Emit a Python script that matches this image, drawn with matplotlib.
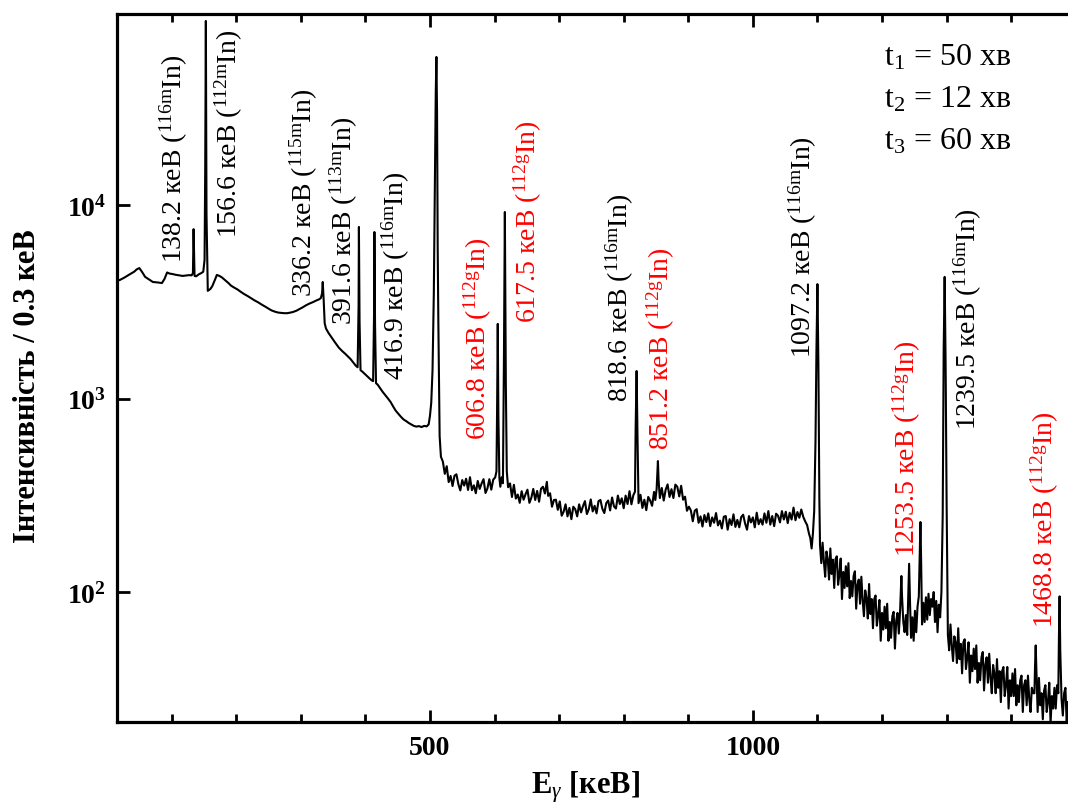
import matplotlib
matplotlib.use('Agg')
import matplotlib.pyplot as plt
from matplotlib.ticker import FixedLocator, MultipleLocator, NullLocator, FixedFormatter

plt.rcParams['font.family'] = ['Liberation Serif', 'DejaVu Serif']
plt.rcParams['mathtext.fontset'] = 'custom'
plt.rcParams['mathtext.rm'] = 'Liberation Serif'
plt.rcParams['mathtext.it'] = 'Liberation Serif:italic'
plt.rcParams['mathtext.bf'] = 'Liberation Serif:bold'

# спектр, зчитаний з рисунку: (енергія кеВ, відліки)
spec_low = [
    (15, 4050), (20, 4100), (26, 4200), (32, 4320), (37, 4420), (42, 4520), (46, 4650),
    (50, 4720), (54, 4520), (59, 4250), (65, 4120), (71, 4000), (78, 3980), (85, 3950),
    (89, 4150), (93, 4480), (97, 4420), (101, 4400), (106, 4360), (111, 4330), (117, 4300),
    (122, 4320), (127, 4340), (131, 4330), (133, 4450), (134, 7500), (135.5, 4300),
    (138, 4280), (142, 4380), (146, 4450), (149, 4520), (151, 5200), (152, 15000),
    (153, 89300), (154, 9000), (156, 3600), (160, 3680), (163, 3810), (167, 4100),
    (170, 4350), (174, 4300), (178, 4220), (183, 4080), (188, 3950), (192, 3830),
    (197, 3740), (202, 3660), (207, 3560), (212, 3470), (218, 3380), (223, 3300),
    (228, 3220), (234, 3140), (240, 3050), (246, 2970), (251, 2900), (255, 2850),
    (260, 2810), (265, 2780), (269, 2770), (274, 2760), (279, 2760), (284, 2780),
    (288, 2800), (293, 2840), (298, 2900), (303, 2960), (308, 3030), (313, 3090),
    (319, 3150), (324, 3210), (328, 3250), (331, 3300), (333, 3500), (334, 4000),
    (335.5, 3200), (337, 2450), (339, 2300), (343, 2180), (348, 2060), (353, 1950),
    (359, 1830), (364, 1760), (369, 1700), (373, 1650), (377, 1600), (381, 1540),
    (385, 1480), (388, 1450), (389.5, 3000), (390, 7700), (391, 2500), (392.5, 1400),
    (395, 1380), (399, 1340), (403, 1300), (407, 1265), (410, 1240), (412, 1230),
    (413.5, 2800), (414, 7250), (415, 2400), (416.5, 1200), (419, 1180), (423, 1130),
    (427, 1080), (431, 1040), (435, 1000), (439, 960), (443, 910), (447, 865),
    (451, 835), (455, 805), (459, 780), (463, 765), (467, 748), (471, 735), (475, 722),
    (479, 716), (483, 720), (487, 712), (491, 722), (495, 718), (498, 735), (500, 812),
    (502, 950), (504, 1400), (506, 3500), (507.5, 12000), (509, 38000), (510, 58200),
    (511, 30000), (512, 6000),
]

spec_mid = [
    (513, 2500), (515, 640), (517, 500), (520, 472), (523, 408), (526, 447), (529, 370),
    (532, 398), (535, 353), (538, 399), (541, 406), (544, 361), (547, 335), (550, 379),
    (553, 355), (556, 385), (559, 337), (562, 392), (565, 336), (568, 356), (571, 324),
    (574, 375), (577, 341), (580, 364), (583, 383), (586, 325), (589, 343), (592, 383),
    (595, 338), (598, 381), (601, 391), (603, 420), (604, 900), (605, 2430), (606, 800),
    (607.5, 390), (609, 350), (611, 392), (613, 365), (614.5, 1500), (616, 9200),
    (617.5, 1200), (619, 420), (621, 348), (624, 364), (627, 310), (630, 358), (633, 304),
    (636, 319), (639, 289), (642, 332), (645, 300), (648, 320), (651, 338), (654, 289),
    (657, 307), (660, 341), (663, 299), (666, 333), (669, 293), (672, 342), (675, 350),
    (678, 323), (681, 371), (683, 314), (686, 324), (689, 276), (692, 299), (695, 300),
    (698, 266), (701, 294), (704, 248), (707, 260), (710, 284), (713, 246), (716, 272),
    (719, 238), (722, 276), (725, 268), (728, 246), (731, 284), (734, 258), (737, 278),
    (740, 295), (743, 253), (746, 268), (749, 301), (752, 261), (755, 279), (758, 255),
    (761, 295), (764, 299), (767, 269), (770, 256), (773, 288), (776, 297), (779, 264),
    (782, 308), (785, 277), (788, 270), (791, 315), (794, 285), (797, 305), (800, 271),
    (803, 315), (806, 285), (809, 332), (812, 284), (815, 317), (817.5, 330),
    (818.5, 700), (820, 1387), (821.5, 600), (823, 288), (826, 318), (829, 272),
    (832, 300), (835, 265), (838, 310), (841, 297), (844, 279), (847, 329), (849, 299),
    (851, 340), (852, 400), (853, 475), (854, 380), (856, 306), (859, 345), (862, 297),
    (865, 338), (868, 360), (871, 310), (874, 340), (877, 306), (880, 359), (883, 350),
    (886, 312), (889, 354), (892, 300), (895, 311), (898, 263), (901, 276), (904, 264),
    (907, 232), (910, 263), (913, 268), (916, 228), (919, 246), (922, 218), (925, 250),
    (928, 230), (931, 255), (934, 219), (937, 243), (940, 228), (943, 256), (946, 221),
    (949, 234), (952, 213), (955, 245), (958, 247), (961, 210), (964, 238), (967, 222),
    (970, 252), (973, 217), (976, 236), (979, 216), (982, 244), (985, 251), (988, 226),
    (991, 210), (994, 247), (997, 229), (1000, 243), (1003, 216), (1006, 257),
    (1009, 224), (1012, 238), (1015, 223), (1018, 255), (1021, 228), (1024, 262),
    (1027, 223), (1030, 247), (1033, 219), (1036, 254), (1039, 248), (1042, 229),
    (1045, 262), (1048, 237), (1051, 260), (1054, 227), (1057, 257), (1060, 237),
    (1063, 273), (1066, 235), (1069, 259), (1072, 242), (1075, 267), (1078, 245),
    (1081, 232), (1084, 222), (1087, 200), (1089, 190), (1091, 168), (1093, 200),
    (1095, 262), (1097, 600), (1098.5, 1800), (1100, 3900), (1101.5, 1500), (1103, 300),
]

spec_high = [
    (1104, 175), (1106, 141), (1108, 180), (1110, 144), (1112, 120), (1114, 162),
    (1116, 148), (1118, 116), (1120, 168), (1122, 124), (1124, 147), (1126, 105),
    (1128, 148), (1130, 153), (1132, 109), (1134, 123), (1136, 149), (1138, 92),
    (1140, 127), (1142, 105), (1144, 136), (1146, 107), (1148, 141), (1150, 93),
    (1152, 114), (1154, 95), (1156, 121), (1158, 128), (1160, 82), (1162, 109),
    (1164, 116), (1166, 87), (1168, 120), (1170, 91), (1172, 75), (1174, 102),
    (1176, 93), (1178, 73), (1180, 110), (1182, 77), (1184, 92), (1186, 65), (1188, 92),
    (1190, 96), (1192, 67), (1194, 76), (1196, 91), (1198, 56), (1200, 78), (1202, 64),
    (1204, 84), (1206, 65), (1208, 87), (1210, 56), (1212, 70), (1214, 58), (1216, 75),
    (1218, 79), (1220, 51), (1222, 71), (1224, 78), (1226, 61), (1228, 80), (1229, 100),
    (1230, 121), (1231, 95), (1233, 70), (1235, 62), (1237, 76), (1239, 60),
    (1240.5, 90), (1242, 140), (1243.5, 85), (1245, 58), (1247, 74), (1249, 56),
    (1251, 80), (1253, 62), (1255, 84), (1257, 95), (1258.5, 160), (1259.5, 230),
    (1260.5, 150), (1262, 68), (1264, 88), (1266, 70), (1268, 94), (1270, 72),
    (1272, 98), (1274, 76), (1276, 92), (1278, 84), (1280, 100), (1282, 70), (1284, 90),
    (1286, 62), (1288, 86), (1290, 74), (1292, 100), (1294, 250), (1295.5, 1800),
    (1297, 4250), (1298.5, 1500), (1300, 300), (1302, 60), (1304, 50), (1306, 68),
    (1308, 53), (1310, 44), (1312, 59), (1314, 55), (1316, 43), (1318, 65), (1320, 45),
    (1322, 54), (1324, 38), (1326, 55), (1328, 57), (1330, 40), (1332, 46), (1334, 55),
    (1336, 34), (1338, 47), (1340, 39), (1342, 51), (1344, 40), (1346, 53), (1348, 34),
    (1350, 43), (1352, 35), (1354, 46), (1356, 49), (1358, 31), (1360, 42), (1362, 46),
    (1364, 34), (1366, 48), (1368, 36), (1370, 30), (1372, 42), (1374, 38), (1376, 30),
    (1378, 45), (1380, 32), (1382, 39), (1384, 27), (1386, 39), (1388, 41), (1390, 29),
    (1392, 33), (1394, 41), (1396, 25), (1398, 35), (1400, 29), (1402, 38), (1404, 29),
    (1406, 40), (1408, 26), (1410, 33), (1412, 27), (1414, 35), (1416, 37), (1418, 24),
    (1420, 33), (1422, 35), (1424, 26), (1426, 37), (1428, 28), (1430, 24), (1432, 32),
    (1434, 30), (1436, 30), (1437, 42), (1438, 53), (1439, 40), (1441, 24), (1443, 36),
    (1445, 26), (1447, 30), (1449, 22), (1451, 31), (1453, 33), (1455, 24), (1457, 27),
    (1459, 34), (1461, 21), (1463, 29), (1465, 25), (1467, 32), (1469, 25), (1471, 33),
    (1473, 30), (1474, 60), (1475, 95), (1476, 50), (1478, 28), (1480, 23), (1482, 30),
    (1484, 32), (1486, 21), (1488, 27),
]

# підписи ліній
line_energy = ['138.2', '156.6', '336.2', '391.6', '416.9', '606.8', '617.5',
               '818.6', '851.2', '1097.2', '1253.5', '1239.5', '1468.8']
line_isotope = ['116m', '112m', '115m', '113m', '116m', '112g', '112g',
                '116m', '112g', '116m', '112g', '116m', '112g']
# де стоїть нижній край підпису (енергія, відліки)
label_anchor = [(104, 5070), (189, 6840), (305, 3390), (367, 2430), (447, 1260),
                (574, 618), (652, 2490), (794, 971), (858, 548), (1078, 1640),
                (1238, 153), (1333, 695), (1452, 66)]

times = [('1', '50'), ('2', '12'), ('3', '60')]


def main():
    spectrum = spec_low + spec_mid + spec_high
    energy = [p[0] for p in spectrum]
    counts = [p[1] for p in spectrum]

    fig = plt.figure(figsize=(10.68, 8.03), dpi=100)
    ax = fig.add_axes([0.1096, 0.0996, 0.8904, 0.8817])

    ax.plot(energy, counts, color='black', lw=1.5)
    ax.set_yscale('log')
    ax.set_xlim(15.5, 1488)
    ax.set_ylim(21.3, 97000)

    # осі
    for side in ['left', 'bottom', 'top']:
        ax.spines[side].set_linewidth(2.3)
    ax.spines['right'].set_visible(False)

    ax.xaxis.set_major_locator(FixedLocator([500, 1000]))
    ax.xaxis.set_minor_locator(MultipleLocator(100))
    ax.set_xticklabels(['500', '1000'], fontsize=20, fontweight='bold')
    ax.yaxis.set_major_locator(FixedLocator([100, 1000, 10000]))
    ax.yaxis.set_minor_locator(NullLocator())
    ax.yaxis.set_major_formatter(FixedFormatter([r'$\mathbf{10^{2}}$', r'$\mathbf{10^{3}}$',
                                                 r'$\mathbf{10^{4}}$']))
    ax.tick_params(which='both', direction='in', top=True, right=False, width=2)
    ax.tick_params(which='major', length=9)
    ax.tick_params(which='minor', length=6)
    ax.tick_params(axis='x', pad=9)
    ax.tick_params(axis='y', pad=8, labelsize=20)

    for (ex, cy), e, iso in zip(label_anchor, line_energy, line_isotope):
        col = 'red' if iso == '112g' else 'black'
        ax.text(ex, cy, e + ' кеВ ($^{\\mathrm{' + iso + '}}$In)', rotation=90,
                ha='center', va='bottom', fontsize=20, color=col)

    for i, (sub, val) in enumerate(times):
        fig.text(0.828, 0.928 - i * 0.0525, 't$_{' + sub + '}$ = ' + val + ' хв',
                 fontsize=23, ha='left', va='center')

    fig.text(0.026, 0.519, 'Інтенсивність / 0.3 кеВ', rotation=90, fontsize=22,
             fontweight='bold', ha='center', va='center')
    fig.text(0.548, 0.020, r'E$_{\gamma}$ [кеВ]', fontsize=22, fontweight='bold',
             ha='center', va='center')

    fig.savefig('out.png', dpi=100)


if __name__ == "__main__":
    main()
